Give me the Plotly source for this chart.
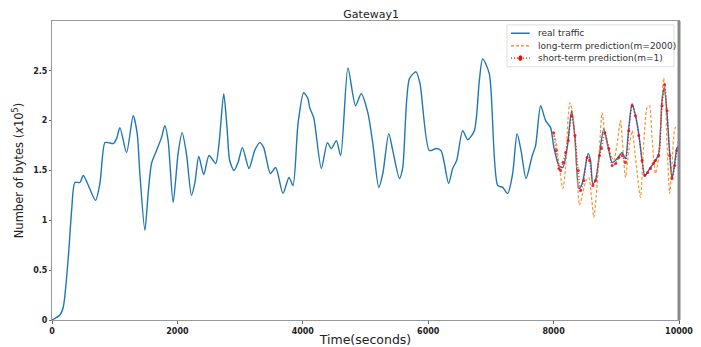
import plotly.graph_objects as go

# ---- data ----
real_t = [0, 127, 180, 260, 313, 366, 446, 499, 600, 695, 764, 844, 897, 977, 1030, 1083, 1189, 1295, 1359, 1401,
          1481, 1534, 1587, 1667, 1746, 1800, 1852, 1932, 2011, 2075, 2144, 2224, 2277, 2341, 2420, 2505, 2611, 2664,
          2739, 2791, 2834, 2903, 2967, 3037, 3142, 3233, 3312, 3376, 3482, 3567, 3684, 3780, 3844, 3924, 4014, 4083,
          4110, 4174, 4296, 4392, 4455, 4535, 4604, 4720, 4841, 4931, 5037, 5117, 5212, 5276, 5371, 5435, 5541, 5594,
          5700, 5806, 5870, 6018, 6125, 6204, 6326, 6390, 6454, 6550, 6630, 6736, 6815, 6868, 6975, 7108, 7188, 7268,
          7347, 7417, 7481, 7560, 7660, 7713, 7793, 7873, 7952, 8005, 8085, 8148, 8217, 8287, 8340, 8403, 8456, 8551,
          8589, 8626, 8668, 8732, 8801, 8881, 8934, 9013, 9093, 9146, 9199, 9252, 9306, 9358, 9411, 9454, 9544, 9624,
          9676, 9729, 9766, 9809, 9852, 9889, 9931, 9968, 10000]
real_v = [0.00, 0.05, 0.13, 0.63, 1.10, 1.38, 1.38, 1.45, 1.32, 1.20, 1.37, 1.78, 1.78, 1.77, 1.82, 1.93, 1.68, 2.05, 1.87, 1.47,
          0.90, 1.27, 1.57, 1.70, 1.83, 1.95, 1.80, 1.18, 1.67, 1.88, 1.67, 1.25, 1.37, 1.64, 1.46, 1.65, 1.57, 1.77,
          2.27, 1.93, 1.60, 1.50, 1.58, 1.73, 1.52, 1.70, 1.78, 1.73, 1.47, 1.53, 1.27, 1.43, 1.35, 1.97, 2.28, 2.22,
          2.13, 2.03, 1.52, 1.78, 1.72, 1.80, 1.65, 2.53, 2.15, 2.27, 2.08, 1.77, 1.33, 1.47, 1.87, 1.70, 1.42, 1.53,
          2.42, 2.49, 2.37, 1.70, 1.72, 1.70, 1.37, 1.52, 1.60, 1.90, 1.81, 1.90, 2.40, 2.62, 2.47, 1.35, 1.33, 1.27,
          1.47, 1.87, 1.70, 1.42, 1.65, 1.75, 2.15, 2.00, 1.93, 1.73, 1.55, 1.53, 1.73, 2.10, 1.83, 1.32, 1.37, 1.67,
          1.60, 1.37, 1.40, 1.67, 1.92, 1.70, 1.58, 1.62, 1.68, 1.62, 1.93, 2.17, 2.05, 1.87, 1.60, 1.45, 1.53, 1.60,
          1.67, 2.20, 2.33, 2.07, 1.67, 1.42, 1.57, 1.73, 1.75]

long_t = [8000, 8035, 8085, 8148, 8191, 8228, 8260, 8307, 8360, 8414, 8456, 8519, 8562, 8605, 8642, 8695, 8732, 8774,
          8828, 8907, 8960, 9013, 9067, 9093, 9146, 9199, 9252, 9306, 9385, 9438, 9491, 9529, 9570, 9624, 9676, 9729,
          9756, 9783, 9809, 9852, 9889, 9942, 10000]
long_v = [1.87, 1.80, 1.57, 1.32, 1.53, 2.00, 2.18, 2.07, 1.60, 1.15, 1.25, 1.40, 1.43, 1.23, 1.03, 1.37, 1.73, 2.08,
          1.83, 1.67, 1.60, 1.77, 2.00, 1.83, 1.43, 1.70, 1.90, 1.63, 1.23, 1.77, 2.13, 2.15, 1.83, 1.47, 1.63, 2.23,
          2.43, 2.27, 1.77, 1.27, 1.57, 1.93, 1.95]

short_t = [8000, 8040, 8085, 8112, 8150, 8192, 8233, 8287, 8340, 8393, 8430, 8483, 8535, 8573, 8626, 8668, 8732, 8764,
           8817, 8881, 8934, 8990, 9040, 9093, 9146, 9199, 9252, 9306, 9358, 9411, 9454, 9500, 9544, 9590, 9624, 9676,
           9729, 9770, 9809, 9852, 9889, 9931, 9968, 10000]
short_v = [1.88, 1.70, 1.52, 1.50, 1.58, 1.68, 1.80, 2.05, 1.85, 1.50, 1.30, 1.40, 1.63, 1.60, 1.35, 1.40, 1.65, 1.72,
           1.88, 1.72, 1.55, 1.57, 1.63, 1.65, 1.58, 1.90, 2.15, 2.05, 1.85, 1.60, 1.45, 1.48, 1.52, 1.57, 1.60, 1.65,
           2.15, 2.36, 2.10, 1.65, 1.42, 1.55, 1.70, 1.78]

series_names = ["real traffic", "long-term prediction(m=2000)", "short-term prediction(m=1)"]
x_ticks = [0, 2000, 4000, 6000, 8000, 10000]
y_ticks = [0, 0.5, 1, 1.5, 2, 2.5]
y_tick_labels = ["0", "0.5", "1", "1.5", "2", "2.5"]

FONT = "DejaVu Sans"
BLUE, ORANGE, RED = "#1f77b4", "#ff7f0e", "#ff0000"
ORANGE_DASH = "3px,2px"
RED_DOT = "1px,2px"

fig = go.Figure()
fig.add_trace(go.Scatter(x=real_t, y=real_v, mode="lines", name=series_names[0],
                         line=dict(color=BLUE, width=1.4, shape="spline", smoothing=0.7)))
fig.add_trace(go.Scatter(x=long_t, y=long_v, mode="lines", name=series_names[1],
                         line=dict(color=ORANGE, width=1.2, dash=ORANGE_DASH, shape="spline", smoothing=0.7),
                         opacity=0.85))
fig.add_trace(go.Scatter(x=short_t, y=short_v, mode="lines+markers", name=series_names[2],
                         line=dict(color=RED, width=1.4, dash=RED_DOT, shape="spline", smoothing=0.7),
                         marker=dict(color=RED, size=3, symbol="circle"),
                         opacity=0.85))

# the page body adds an 8px offset, so the figure is sized/margined to land on the reference positions
fig.update_layout(
    width=693, height=339,
    margin=dict(l=44, r=22, t=13, b=27),
    paper_bgcolor="white", plot_bgcolor="white",
    font=dict(family=FONT, color="#222"),
    title=dict(text="Gateway1", x=0.524, xanchor="center", y=0.982, yanchor="middle",
               font=dict(family=FONT, size=11, color="#222")),
    showlegend=False,
    xaxis=dict(range=[0, 10000], tickvals=x_ticks, ticktext=[f"<b>{t}</b>" for t in x_ticks],
               automargin=False,
               showgrid=False, zeroline=False, showline=True, linecolor="#999", linewidth=1, mirror=True,
               ticks="outside", ticklen=3, tickcolor="#666",
               tickfont=dict(family=FONT, size=8, color="#222"),
               title=dict(text="Time(seconds)", font=dict(family=FONT, size=12.5, color="#222"), standoff=5)),
    yaxis=dict(range=[0, 3.0], tickvals=y_ticks, ticktext=[f"<b>{t}</b>" for t in y_tick_labels],
               automargin=False,
               showgrid=False, zeroline=False, showline=True, linecolor="#999", linewidth=1, mirror=True,
               ticks="outside", ticklen=2, tickcolor="#666",
               tickfont=dict(family=FONT, size=8, color="#222"),
               title=dict(text="Number of bytes (<i>x</i>10<sup>5</sup>)",
                          font=dict(family=FONT, size=11.5, color="#222"), standoff=7)),
)

# thicker darker right border as in the reference
fig.add_shape(type="line", xref="paper", yref="paper", x0=1, x1=1, y0=0, y1=1,
              line=dict(color="#888", width=3))

# compact legend (matplotlib style) built from shapes + annotations
leg_x0, leg_x1, leg_y0, leg_y1 = 0.7257, 0.992, 0.847, 0.987
fig.add_shape(type="rect", xref="paper", yref="paper", x0=leg_x0, x1=leg_x1, y0=leg_y0, y1=leg_y1,
              line=dict(color="#dddddd", width=1), fillcolor="rgba(255,255,255,0.9)")
row_y = [0.959, 0.9167, 0.8757]
styles = [(BLUE, "solid", 1.5), (ORANGE, ORANGE_DASH, 1.2), (RED, RED_DOT, 1.4)]
for name, ry, (col, dash, w) in zip(series_names, row_y, styles):
    fig.add_shape(type="line", xref="paper", yref="paper", x0=0.732, x1=0.762, y0=ry, y1=ry,
                  line=dict(color=col, width=w, dash=dash))
    fig.add_annotation(xref="paper", yref="paper", x=0.772, y=ry, xanchor="left", yanchor="middle",
                       text=name, showarrow=False, font=dict(family=FONT, size=9, color="#333"))
fig.add_shape(type="circle", xref="paper", yref="paper", x0=0.7445, x1=0.7495,
              y0=row_y[2] - 0.008, y1=row_y[2] + 0.008, line=dict(color=RED, width=1), fillcolor=RED)

fig.write_html("out.html")
